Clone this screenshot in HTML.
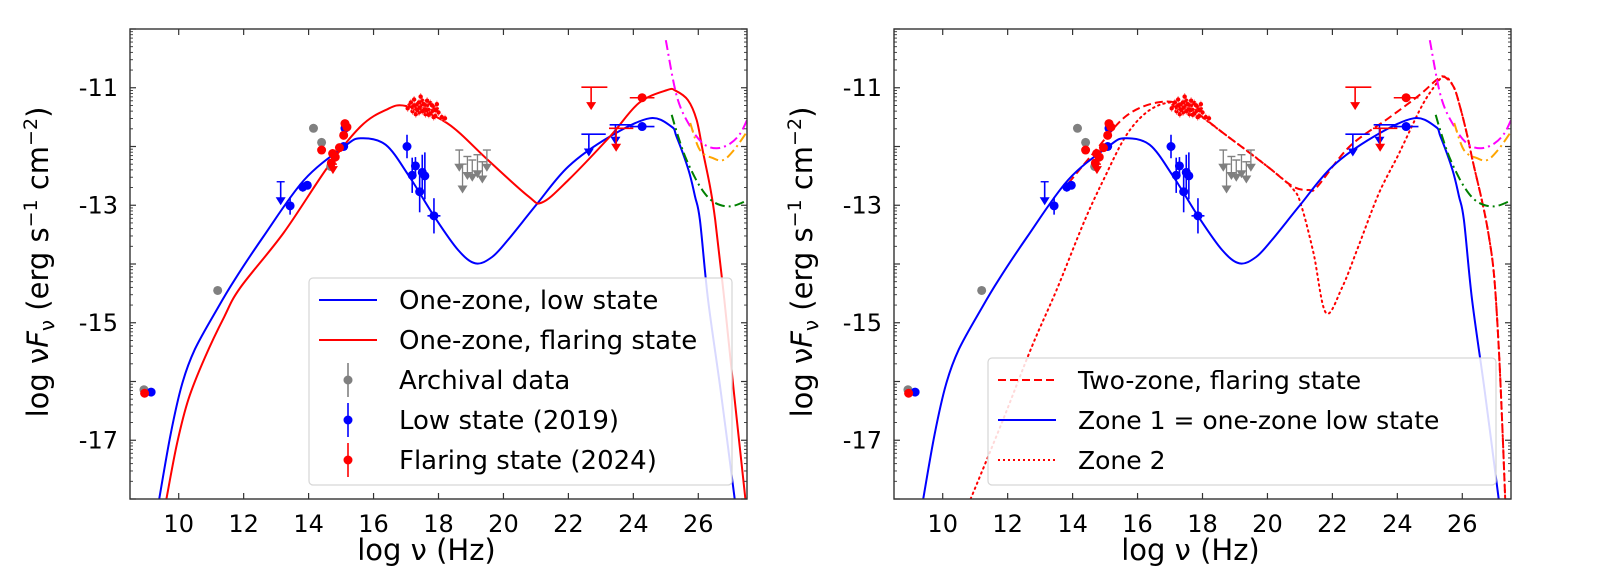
<!DOCTYPE html>
<html><head><meta charset="utf-8"><style>
html,body{margin:0;padding:0;background:#fff;}
svg{display:block;font-family:"DejaVu Sans","Liberation Sans",sans-serif;}
</style></head><body>
<svg id="fig" width="1624" height="588" viewBox="0 0 1624 588" xmlns="http://www.w3.org/2000/svg"></svg>
<script>
// ---- data (log nu [Hz], log nuFnu) ----
const lowModel=[[9.4,-18],[9.75,-16.9],[10.1,-16.05],[10.5,-15.45],[11.2,-14.75],[11.72,-14.27],[12.6,-13.54],[13.86,-12.57],[15.1,-12.0],[15.6,-11.86],[16.37,-11.97],[17.1,-12.51],[17.88,-13.2],[18.6,-13.76],[19.14,-13.99],[19.65,-13.88],[20.14,-13.59],[21.0,-13.0],[22.0,-12.34],[23.28,-11.83],[24.5,-11.52],[25.17,-11.66],[25.33,-11.83],[25.7,-12.4],[25.9,-12.85],[26.05,-13.25],[26.3,-14.6],[26.7,-16.2],[27.12,-18]];
const flareModel=[[9.62,-18],[9.95,-17.05],[10.3,-16.3],[10.8,-15.6],[11.4,-14.9],[11.9,-14.4],[13.23,-13.47],[14.6,-12.34],[15.6,-11.66],[16.37,-11.38],[17.0,-11.31],[18.26,-11.6],[19.52,-12.23],[20.77,-12.85],[21.2,-12.95],[22.0,-12.57],[23.28,-11.83],[24.17,-11.26],[25.04,-11.04],[25.3,-11.05],[25.68,-11.21],[25.95,-11.55],[26.15,-12.11],[26.36,-12.68],[26.52,-13.25],[26.8,-14.6],[27.1,-16.2],[27.45,-18]];
const twoZoneModel=[[13.88,-12.62],[14.63,-12.12],[15.63,-11.49],[16.63,-11.25],[17.5,-11.32],[18.78,-11.83],[20.0,-12.34],[20.78,-12.68],[21.29,-12.74],[21.54,-12.68],[22.53,-12.0],[23.8,-11.49],[24.69,-11.12],[25.2,-10.87],[25.43,-10.81],[25.73,-10.98],[25.93,-11.32],[26.14,-11.78],[26.34,-12.29],[26.6,-12.91],[26.8,-13.47],[26.98,-14.2],[27.13,-15.5],[27.25,-17],[27.32,-18]];
const zone2Model=[[10.86,-18],[11.86,-16.65],[12.75,-15.4],[13.5,-14.45],[14.38,-13.25],[15.0,-12.51],[15.63,-11.83],[16.25,-11.43],[16.9,-11.26],[17.5,-11.32],[18.78,-11.83],[20.0,-12.34],[20.78,-12.72],[21.05,-13.02],[21.42,-13.82],[21.8,-14.83],[22.3,-14.4],[22.8,-13.7],[23.43,-12.8],[24.05,-12.12],[24.69,-11.38],[25.06,-11.04],[25.43,-10.81],[25.73,-10.98],[25.93,-11.32],[26.14,-11.78],[26.34,-12.29],[26.6,-12.91],[26.8,-13.47],[26.98,-14.2],[27.13,-15.5],[27.25,-17],[27.32,-18]];
const magentaCurve=[[25.0,-10.19],[25.34,-11.15],[25.75,-11.66],[26.15,-11.95],[26.57,-12.03],[26.98,-11.95],[27.29,-11.78],[27.5,-11.55]];
const orangeCurve=[[25.75,-11.6],[26.05,-12.06],[26.46,-12.2],[26.77,-12.23],[27.1,-12.06],[27.5,-11.75]];
const greenCurve=[[25.18,-11.46],[25.38,-11.83],[25.64,-12.23],[26.05,-12.68],[26.46,-12.94],[26.98,-13.02],[27.5,-12.92]];

const archivalNu=[14.15,14.4,14.68,11.2,8.93];
const archivalF=[-11.69,-11.93,-12.34,-14.45,-16.14];
const archLimNu=[18.64,18.74,18.89,19.04,19.2,19.35,19.49];
const archLimCap=[-12.06,-12.3,-12.17,-12.23,-12.14,-12.26,-12.06];
const archLimTip=[-12.43,-12.8,-12.57,-12.6,-12.54,-12.63,-12.43];

const lowNu=[9.15,13.43,13.82,13.96,15.08,15.12,17.03,17.19,17.29,17.42,17.5,17.58,17.86,24.27];
const lowF=[-16.18,-13.01,-12.69,-12.66,-12.0,-11.69,-12.0,-12.49,-12.33,-12.77,-12.44,-12.5,-13.18,-11.66];
const lowErr=[0.05,0.15,0.08,0.06,0.05,0.05,0.2,0.3,0.15,0.35,0.3,0.4,0.3,0.03];
const lowXErr=[0,0,0,0,0,0,0,0,0,0,0,0,0.2,0.38];
const lowLimNu=[13.14,22.63,23.45];
const lowLimCap=[-12.6,-11.79,-11.63];
const lowLimTip=[-13.0,-12.17,-11.97];
const lowLimBarL=[13.14,22.4,23.27];
const lowLimBarR=[13.14,23.15,24.0];

const flareNu=[8.95,14.4,14.74,14.82,14.7,14.95,15.08,15.12,15.18,24.27];
const flareF=[-16.2,-12.06,-12.12,-12.18,-12.28,-12.02,-11.81,-11.61,-11.67,-11.17];
const flareXErr=[0,0,0,0,0,0,0,0,0,0.38];
const flareLimNu=[14.75,22.7,23.47];
const flareLimCap=[-12.3,-10.99,-11.69];
const flareLimTip=[-12.47,-11.38,-12.09];
const flareLimBarL=[14.75,22.4,23.25];
const flareLimBarR=[14.75,23.2,24.0];
const clusterNu=[17.1,17.15,17.2,17.25,17.3,17.35,17.4,17.45,17.5,17.55,17.6,17.65,17.7,17.75,17.8,17.85,17.9,17.95,18.0,18.1,18.2,17.2,17.3,17.4,17.5,17.6,17.7,17.8,17.9,17.45,17.05,17.65,17.35,17.55,17.75,17.85,17.25,17.95,17.42,17.62];
const clusterF=[-11.3,-11.25,-11.4,-11.2,-11.35,-11.28,-11.42,-11.3,-11.22,-11.36,-11.45,-11.3,-11.38,-11.26,-11.4,-11.33,-11.48,-11.36,-11.42,-11.5,-11.52,-11.33,-11.45,-11.25,-11.4,-11.32,-11.46,-11.3,-11.38,-11.15,-11.35,-11.22,-11.38,-11.28,-11.44,-11.5,-11.3,-11.28,-11.34,-11.38];

const xTicks=[10,12,14,16,18,20,22,24,26];
const yMajor=[-18,-17,-16,-15,-14,-13,-12,-11,-10];
const yLabels=[-17,-15,-13,-11];

// ---- layout ----
const NS="http://www.w3.org/2000/svg";
const svg=document.getElementById('fig');
const XMIN=8.5,XMAX=27.5,YMIN=-18,YMAX=-10;
const W=617,TOP=29,BOT=499;
function mk(tag,attrs,parent){const e=document.createElementNS(NS,tag);for(const k in attrs)e.setAttribute(k,attrs[k]);(parent||svg).appendChild(e);return e;}

function smoothPath(pts,sx,sy){
  const P=pts.map(p=>[sx(p[0]),sy(p[1])]);
  let d='M'+P[0][0].toFixed(1)+','+P[0][1].toFixed(1);
  for(let i=0;i<P.length-1;i++){
    const p0=P[i-1]||P[i],p1=P[i],p2=P[i+1],p3=P[i+2]||P[i+1];
    const c1=[p1[0]+(p2[0]-p0[0])/6,p1[1]+(p2[1]-p0[1])/6];
    const c2=[p2[0]-(p3[0]-p1[0])/6,p2[1]-(p3[1]-p1[1])/6];
    d+=` C${c1[0].toFixed(1)},${c1[1].toFixed(1)} ${c2[0].toFixed(1)},${c2[1].toFixed(1)} ${p2[0].toFixed(1)},${p2[1].toFixed(1)}`;
  }
  return d;
}

function panel(L,idx){
  const sx=v=>L+(v-XMIN)/(XMAX-XMIN)*W;
  const sy=f=>TOP+(YMAX-f)/(YMAX-YMIN)*(BOT-TOP);
  const g=mk('g',{});
  
  
  const cid='clip'+idx;
  const cp=mk('clipPath',{id:cid},g);mk('rect',{x:L,y:TOP,width:W,height:BOT-TOP},cp);
  const plot=mk('g',{'clip-path':`url(#${cid})`},g);
  
  

  function curve(pts,color,dash,name){
    const p=mk('path',{d:smoothPath(pts,sx,sy),fill:'none',stroke:color,'stroke-width':2,'stroke-dasharray':dash||'none','stroke-linecap':dash&&dash.startsWith('1.5')?'round':'butt'},plot);
    
    
  }
  function dot(v,f,color,err,xerr){
    const gg=mk('g',{},plot);
    
    
    if(err)mk('line',{x1:sx(v),x2:sx(v),y1:sy(f+err),y2:sy(f-err),stroke:color,'stroke-width':1.6},gg);
    if(xerr)mk('line',{x1:sx(v-xerr),x2:sx(v+xerr),y1:sy(f),y2:sy(f),stroke:color,'stroke-width':1.6},gg);
    mk('circle',{cx:sx(v),cy:sy(f),r:4.5,fill:color},gg);
  }
  function ulim(v,cap,tip,bl,br,color,w){
    const gg=mk('g',{},plot);
    
    
    const x=sx(v),y1=sy(cap),y2=sy(tip);
    mk('line',{x1:x,x2:x,y1:y1,y2:y2-6,stroke:color,'stroke-width':w},gg);
    mk('polygon',{points:`${x-5},${y2-8} ${x+5},${y2-8} ${x},${y2}`,fill:color},gg);
    if(br>bl)mk('line',{x1:sx(bl),x2:sx(br),y1:y1,y2:y1,stroke:color,'stroke-width':1.6},gg);
    else mk('line',{x1:x-4,x2:x+4,y1:y1,y2:y1,stroke:color,'stroke-width':1.4},gg);
  }

  if(idx===0){
    curve(lowModel,'#0000ff',null,'one-zone-low-curve');
    curve(flareModel,'#ff0000',null,'one-zone-flaring-curve');
  } else {
    curve(zone2Model,'#ff0000','1.5 4','zone-2-curve');
    curve(twoZoneModel,'#ff0000','8 4','two-zone-flaring-curve');
    curve(lowModel,'#0000ff',null,'zone-1-curve');
  }
  curve(magentaCurve,'#ff00ff','10 4 2 4','sensitivity-curve-magenta');
  curve(orangeCurve,'#ffa500','10 4 2 4','sensitivity-curve-orange');
  curve(greenCurve,'#008000','10 4 2 4','sensitivity-curve-green');

  archivalNu.forEach((v,i)=>dot(v,archivalF[i],'#808080',0.05,0));
  archLimNu.forEach((v,i)=>ulim(v,archLimCap[i],archLimTip[i],0,0,'#808080',1.3));
  lowNu.forEach((v,i)=>dot(v,lowF[i],'#0000ff',lowErr[i],lowXErr[i]));
  lowLimNu.forEach((v,i)=>ulim(v,lowLimCap[i],lowLimTip[i],lowLimBarL[i],lowLimBarR[i],'#0000ff',1.6));
  clusterNu.forEach((v,i)=>{
    const gg=mk('g',{},plot);
    
    
    mk('line',{x1:sx(v),x2:sx(v),y1:sy(clusterF[i]+0.06),y2:sy(clusterF[i]-0.06),stroke:'#ff8080','stroke-width':1},gg);
    mk('circle',{cx:sx(v),cy:sy(clusterF[i]),r:2.2,fill:'#ff0000'},gg);
  });
  flareNu.forEach((v,i)=>dot(v,flareF[i],'#ff0000',0.04,flareXErr[i]));
  flareLimNu.forEach((v,i)=>ulim(v,flareLimCap[i],flareLimTip[i],flareLimBarL[i],flareLimBarR[i],'#ff0000',1.6));

  const fr=mk('rect',{x:L,y:TOP,width:W,height:BOT-TOP,fill:'none',stroke:'#333','stroke-width':1.4},g);
  
  
  xTicks.forEach(t=>{
    const x=sx(t);
    mk('line',{x1:x,x2:x,y1:BOT,y2:BOT-6,stroke:'#333','stroke-width':1.2},g);
    mk('line',{x1:x,x2:x,y1:TOP,y2:TOP+6,stroke:'#333','stroke-width':1.2},g);
    const tx=mk('text',{x:x,y:BOT+33,'font-size':24,'text-anchor':'middle',fill:'#000'},g);
    tx.textContent=t;
    
    
  });
  yMajor.forEach(t=>{
    const y=sy(t);
    [[L,L+6],[L+W,L+W-6]].forEach(([a,b])=>mk('line',{x1:a,x2:b,y1:y,y2:y,stroke:'#333','stroke-width':1.2},g));
    if(t<YMAX){for(let k=2;k<=9;k++){const ym=sy(t+Math.log10(k));
      [[L,L+3],[L+W,L+W-3]].forEach(([a,b])=>mk('line',{x1:a,x2:b,y1:ym,y2:ym,stroke:'#333','stroke-width':0.9},g));}}
  });
  yLabels.forEach(t=>{
    const tx=mk('text',{x:L-12,y:sy(t)+8,'font-size':24,'text-anchor':'end',fill:'#000'},g);
    tx.textContent=t;
    
    
  });
  const xt=mk('text',{x:L+W/2-12,y:560,'font-size':29,'text-anchor':'middle',fill:'#000'},g);
  xt.textContent='log ν (Hz)';
  
  
  const yt=mk('text',{x:0,y:0,'font-size':29,'text-anchor':'middle',fill:'#000',transform:`translate(${L-82},262) rotate(-90)`},g);
  
  
  yt.innerHTML='log ν<tspan font-style="italic">F</tspan><tspan font-size="20" dy="6">ν</tspan><tspan dy="-6"> (erg s</tspan><tspan font-size="19" dy="-11">−1</tspan><tspan dy="11"> cm</tspan><tspan font-size="19" dy="-11">−2</tspan><tspan dy="11">)</tspan>';
  return {sx,sy,g};
}

const p1=panel(130,0);
const p2=panel(894,1);

function legend(g,x,y,w,h,fs,entries){
  const lg=mk('g',{},g);
  
  
  mk('rect',{x:x,y:y,width:w,height:h,rx:4,fill:'rgba(255,255,255,0.85)',stroke:'#d6d6d6','stroke-width':1.2},lg);
  entries.forEach((e,i)=>{
    const cy=y+22+i*40;
    const eg=mk('g',{},lg);
    
    
    if(e.type==='line'){
      mk('line',{x1:x+10,x2:x+68,y1:cy,y2:cy,stroke:e.color,'stroke-width':2,'stroke-dasharray':e.dash||'none'},eg);
    } else {
      mk('line',{x1:x+39,x2:x+39,y1:cy-17,y2:cy+17,stroke:e.color,'stroke-width':1.6},eg);
      mk('circle',{cx:x+39,cy:cy,r:4.5,fill:e.color},eg);
    }
    const t=mk('text',{x:x+90,y:cy+9,'font-size':fs,fill:'#000'},eg);
    t.textContent=e.label;
  });
}
legend(p1.g,309,278,423,207,26,[
  {type:'line',color:'#0000ff',label:'One-zone, low state'},
  {type:'line',color:'#ff0000',label:'One-zone, flaring state'},
  {type:'pt',color:'#808080',label:'Archival data'},
  {type:'pt',color:'#0000ff',label:'Low state (2019)'},
  {type:'pt',color:'#ff0000',label:'Flaring state (2024)'}]);
legend(p2.g,988,358,508,127,25,[
  {type:'line',color:'#ff0000',dash:'8 4',label:'Two-zone, flaring state'},
  {type:'line',color:'#0000ff',label:'Zone 1 = one-zone low state'},
  {type:'line',color:'#ff0000',dash:'2 3',label:'Zone 2'}]);
</script>
</body></html>
